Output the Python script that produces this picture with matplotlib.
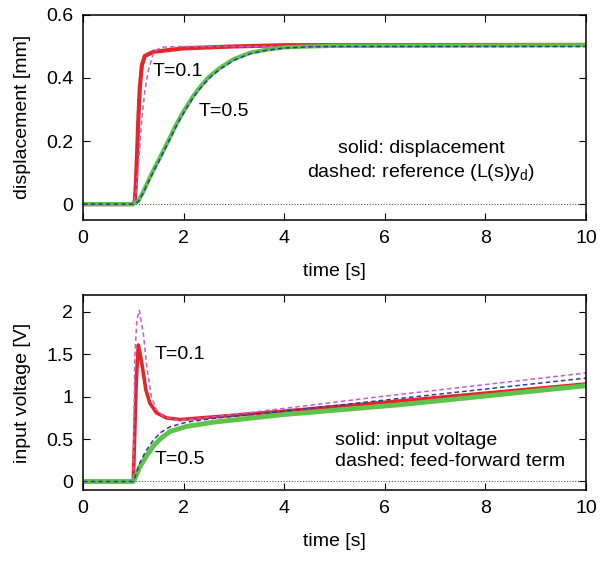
import matplotlib.pyplot as plt

plt.rcParams['font.family'] = ['Liberation Sans', 'DejaVu Sans']
plt.rcParams['mathtext.fontset'] = 'custom'
plt.rcParams['mathtext.rm'] = 'Liberation Sans'
plt.rcParams['mathtext.it'] = 'Liberation Sans:italic'

# displacement, T=0.1 measured / reference
t_d01 = [0, 1.0, 1.03, 1.05, 1.08, 1.10, 1.13, 1.17, 1.23, 1.4, 2.0, 3.0, 4.0, 10.0]
d01 = [0, 0, 0.01, 0.06, 0.18, 0.27, 0.37, 0.44, 0.47, 0.483, 0.494, 0.5, 0.504, 0.505]
t_r01 = [0, 1.0, 1.05, 1.1, 1.17, 1.23, 1.3, 1.4, 1.5, 1.6, 2.0, 10.0]
r01 = [0, 0, 0.03, 0.12, 0.27, 0.36, 0.425, 0.478, 0.493, 0.498, 0.5, 0.5]
# displacement, T=0.5 measured / reference
t_d05 = [0, 1.0, 1.1, 1.2, 1.3, 1.4, 1.53, 1.63, 1.73, 1.83, 1.93, 2.06, 2.2, 2.33, 2.5,
         2.72, 3.0, 3.32, 3.65, 4.0, 4.5, 5.0, 10.0]
d05 = [0, 0, 0.01, 0.04, 0.075, 0.108, 0.148, 0.18, 0.212, 0.245, 0.275, 0.31, 0.345, 0.372,
       0.403, 0.432, 0.46, 0.48, 0.49, 0.497, 0.5, 0.502, 0.504]
r05 = [0, 0, 0.008, 0.036, 0.07, 0.103, 0.143, 0.175, 0.207, 0.24, 0.27, 0.305, 0.34, 0.367,
       0.398, 0.428, 0.456, 0.477, 0.488, 0.495, 0.499, 0.5, 0.5]

# input voltage, T=0.1 measured / feed-forward
t_u01 = [0, 1.0, 1.03, 1.06, 1.10, 1.13, 1.17, 1.25, 1.33, 1.46, 1.66, 1.93, 4.0, 6.3, 10.0]
u01 = [0, 0, 0.6, 1.2, 1.61, 1.52, 1.39, 1.08, 0.925, 0.81, 0.75, 0.73, 0.83, 0.95, 1.15]
t_f01 = [0, 1.0, 1.03, 1.07, 1.12, 1.2, 1.27, 1.36, 1.46, 1.6, 1.8, 1.93, 3.0, 5.9, 10.0]
f01 = [0, 0, 1.47, 1.9, 2.02, 1.74, 1.35, 1.0, 0.847, 0.77, 0.73, 0.72, 0.79, 1.0, 1.28]
# input voltage, T=0.5 measured / feed-forward
t_u05 = [0, 1.0, 1.05, 1.13, 1.25, 1.4, 1.55, 1.73, 2.06, 2.6, 4.0, 6.3, 10.0]
u05 = [0, 0, 0.06, 0.17, 0.29, 0.42, 0.51, 0.59, 0.65, 0.70, 0.79, 0.905, 1.13]
f05 = [0, 0, 0.08, 0.22, 0.36, 0.49, 0.58, 0.645, 0.70, 0.745, 0.83, 0.98, 1.22]

red = '#e2262b'
green = '#5fc24a'
blue = '#2b3d9e'
magenta = '#c85ccc'
dash = (0, (3, 2))
fs = 14

fig = plt.figure(figsize=(6.04, 5.61), dpi=100)
ax1 = fig.add_axes([0.1374, 0.608, 0.833, 0.3654])
ax2 = fig.add_axes([0.1374, 0.1266, 0.833, 0.3476])

ax1.plot(t_d01, d01, color=red, lw=3.0, solid_joinstyle='round')
ax1.plot(t_r01, r01, color=magenta, lw=1.1, linestyle=dash)
ax1.plot(t_d05, d05, color=green, lw=3.0, solid_joinstyle='round')
ax1.plot(t_d05, r05, color=blue, lw=1.1, linestyle=dash)

ax2.plot(t_u01, u01, color=red, lw=2.6, solid_joinstyle='round')
ax2.plot(t_f01, f01, color=magenta, lw=1.1, linestyle=dash)
ax2.plot(t_u05, u05, color=green, lw=3.5, solid_joinstyle='round')
ax2.plot(t_u05, f05, color=blue, lw=1.1, linestyle=dash)

for ax in (ax1, ax2):
    ax.axhline(0, color='#555555', lw=0.8, linestyle=(0, (1, 1.5)), zorder=0)
    ax.set_xlim(0, 10)
    ax.set_xticks([0, 2, 4, 6, 8, 10])
    ax.set_xlabel('time [s]', fontsize=fs, labelpad=12)
    ax.tick_params(direction='in', length=5, width=0.8, top=True, right=True,
                   labelsize=fs, pad=7)
    for s in ax.spines.values():
        s.set_linewidth(1.1)

ax1.set_ylim(-0.05, 0.6)
ax1.set_yticks([0, 0.2, 0.4, 0.6])
ax1.set_yticklabels(['0', '0.2', '0.4', '0.6'])
ax1.set_ylabel('displacement [mm]', fontsize=fs, labelpad=11)
ax1.text(1.39, 0.42, 'T=0.1', fontsize=fs, va='center')
ax1.text(2.29, 0.294, 'T=0.5', fontsize=fs, va='center')
ax1.text(6.72, 0.178, 'solid: displacement', fontsize=fs, ha='center', va='center')
ax1.text(6.72, 0.10, 'dashed: reference (L(s)y$_\\mathrm{d}$)', fontsize=fs,
         ha='center', va='center')

ax2.set_ylim(-0.1, 2.2)
ax2.set_yticks([0, 0.5, 1, 1.5, 2])
ax2.set_yticklabels(['0', '0.5', '1', '1.5', '2'])
ax2.set_ylabel('input voltage [V]', fontsize=fs, labelpad=11)
ax2.text(1.43, 1.50, 'T=0.1', fontsize=fs, va='center')
ax2.text(1.43, 0.255, 'T=0.5', fontsize=fs, va='center')
ax2.text(5.01, 0.487, 'solid: input voltage', fontsize=fs, va='center')
ax2.text(5.01, 0.24, 'dashed: feed-forward term', fontsize=fs, va='center')

fig.savefig('out.png', dpi=100)
